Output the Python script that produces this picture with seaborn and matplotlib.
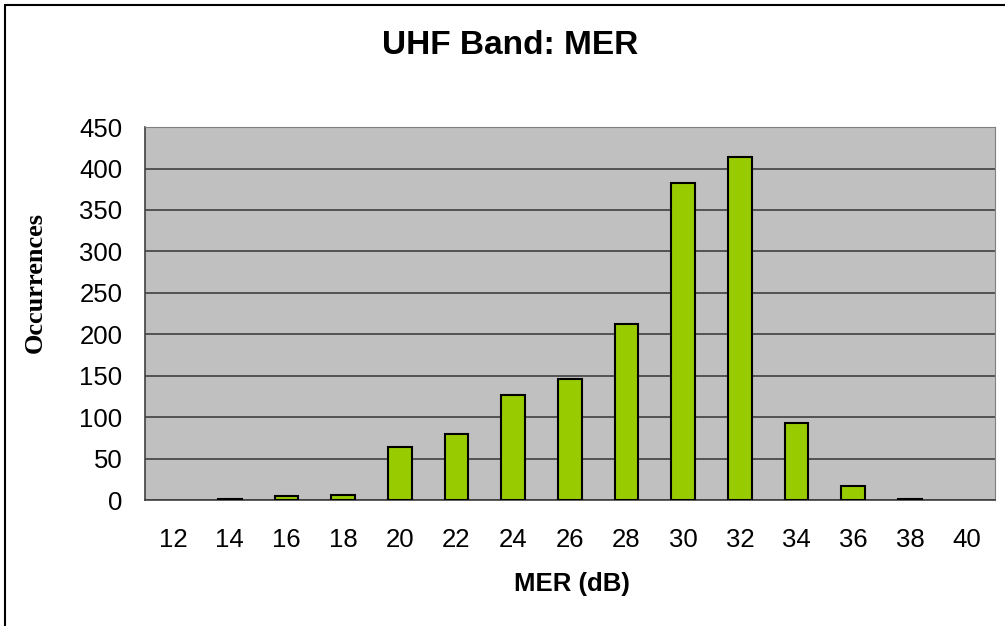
import pandas as pd
import seaborn as sns
import matplotlib.pyplot as plt
from matplotlib.lines import Line2D

mer_db = [12, 14, 16, 18, 20, 22, 24, 26, 28, 30, 32, 34, 36, 38, 40]
occurrences = [0, 2, 5, 6, 64, 80, 127, 146, 212, 382, 414, 93, 17, 1, 0]
y_ticks = [0, 50, 100, 150, 200, 250, 300, 350, 400, 450]

df = pd.DataFrame({"mer": [str(m) for m in mer_db], "count": occurrences})

sns.set_style("white")
plt.rcParams['font.family'] = ['Liberation Sans', 'DejaVu Sans']
plt.rcParams['text.color'] = 'black'
plt.rcParams['axes.labelcolor'] = 'black'
plt.rcParams['xtick.labelcolor'] = 'black'
plt.rcParams['ytick.labelcolor'] = 'black'

fig = plt.figure(figsize=(10.05, 6.26), dpi=100)
ax = fig.add_axes([0.144, 0.201, 0.846, 0.596])
ax.set_facecolor("#c0c0c0")

sns.barplot(data=df, x="mer", y="count", color="#99cc00", width=0.42,
            edgecolor="black", linewidth=1.5, saturation=1, ax=ax, zorder=3)
# empty categories get no outline
for bar, v in zip(ax.patches, occurrences):
    if v == 0:
        bar.set_linewidth(0)

ax.set_ylim(0, 450)
ax.set_xlim(-0.5, len(mer_db) - 0.5)
ax.set_yticks(y_ticks)
ax.yaxis.grid(True, color="#404040", linewidth=1.2, zorder=0)
ax.set_axisbelow(True)

# ticks between categories, like Excel
ax.set_xticks([i - 0.5 for i in range(len(mer_db) + 1)], minor=True)
ax.tick_params(axis="x", which="major", length=0, pad=20, labelsize=18.5)
ax.tick_params(axis="x", which="minor", length=8, width=1, color="#404040", direction="out")
ax.tick_params(axis="y", length=8, width=1, color="#404040", direction="out", labelsize=18.5, pad=8)

for side in ["top", "right"]:
    ax.spines[side].set_visible(True)
    ax.spines[side].set_color("#808080")
for side in ["left", "bottom"]:
    ax.spines[side].set_color("#404040")
    ax.spines[side].set_linewidth(1.2)

ax.set_xlabel("MER (dB)", fontsize=18.5, fontweight="bold", va="center")
ax.xaxis.set_label_coords(0.502, -0.225)
ax.set_ylabel("Occurrences", fontsize=19, fontweight="bold",
              family=["Liberation Serif", "DejaVu Serif"], va="center")
ax.yaxis.set_label_coords(-0.129, 0.584)
fig.text(0.508, 0.928, "UHF Band: MER", ha="center", va="center",
         fontsize=24, fontweight="bold")

# chart frame: only the left and top edges fall inside the image
fig.add_artist(Line2D([0.005, 0.005], [0.0, 0.992], transform=fig.transFigure, color="black", linewidth=1.5))
fig.add_artist(Line2D([0.005, 1.0], [0.992, 0.992], transform=fig.transFigure, color="black", linewidth=1.5))

fig.savefig("out.png", dpi=100)
